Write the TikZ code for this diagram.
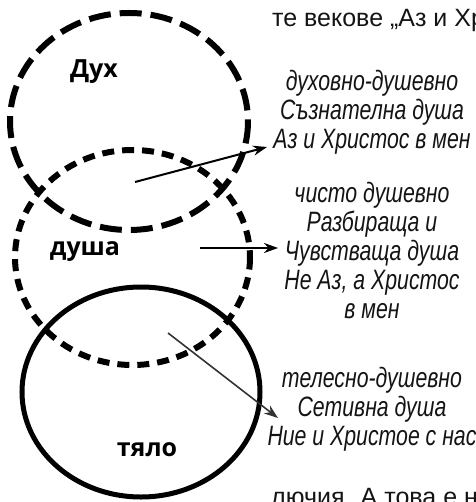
\documentclass[tikz,border=0pt]{standalone}
\usepackage{fontspec}
\setmainfont{Liberation Sans}
\newfontfamily\narrowfont[FakeStretch=0.76]{Liberation Sans}
\newfontfamily\bodyfont{Liberation Sans}
\newfontfamily\labelfont{Open Sans}
\usetikzlibrary{arrows.meta}
\begin{document}
\begin{tikzpicture}[x=1pt,y=-1pt,
  longdash/.style={line width=6pt,dash pattern=on 22pt off 9pt},
  shortdash/.style={line width=6pt,dash pattern=on 12pt off 8pt},
  solidring/.style={line width=5pt},
  circlabel/.style={font=\labelfont\bfseries\fontsize{25}{25}\selectfont,inner sep=0pt},
  desc/.style={font=\narrowfont\itshape\fontsize{28}{29}\selectfont,align=center,inner sep=0pt,text=black!92},
  para/.style={font=\bodyfont\fontsize{25}{25}\selectfont,inner sep=0pt,anchor=base west,text=black!92},
  pointer/.style={-{Stealth[length=14pt,width=10pt]}}
]
\useasboundingbox (0,0) rectangle (475,502);
\clip (0,0) rectangle (475,502);
% rings
\draw[longdash] (129,121.5) ellipse [x radius=119, y radius=108.5];
\draw[shortdash] (132.5,257.5) ellipse [x radius=117.5, y radius=107.5];
\draw[solidring] (141,392) ellipse [x radius=119, y radius=105];
% ring labels
\node[circlabel] (dux) at (94,72) {Дух};
\node[circlabel] (dusha) at (85,252) {душа};
\node[circlabel] (tyalo) at (147,450) {тяло};
% running text
\node[para] (top) at (272,27) {те векове „Аз и Хр};
\node[para] (bottom) at (271,505) {лючия. А това е не};
% descriptions
\node[desc] (d1) at (372,112) {духовно-душевно\\Съзнателна душа\\Аз и Христос в мен};
\node[desc] (d2) at (372,250) {чисто душевно\\Разбираща и\\Чувстваща душа\\Не Аз, а Христос\\в мен};
\node[desc] (d3) at (372,409) {телесно-душевно\\Сетивна душа\\Ние и Христое с нас};
% pointers
\coordinate (s1) at (135,182);
\coordinate (e1) at (267,147);
\coordinate (s2) at (200,248);
\coordinate (e2) at (278,248);
\coordinate (s3) at (168,333);
\coordinate (e3) at (278,418);
\draw[pointer,line width=2pt] (s1) -- (e1);
\draw[pointer,line width=2.2pt] (s2) -- (e2);
\draw[pointer,line width=1.6pt,draw=black!80,fill=black!80] (s3) -- (e3);
\end{tikzpicture}
\end{document}
